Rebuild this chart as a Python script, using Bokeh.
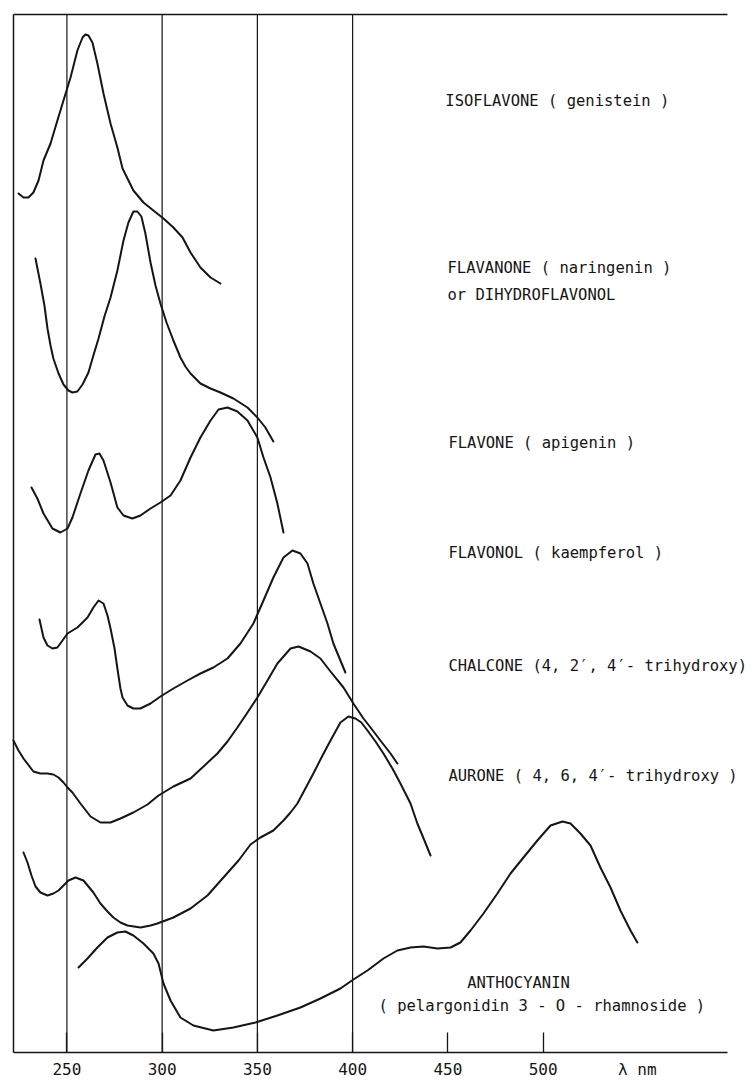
from bokeh.plotting import figure
from bokeh.models import Range1d, FixedTicker, Label, LinearAxis
from bokeh.embed import file_html
from bokeh.resources import INLINE

# ---------------- data (wavelength in nm, relative absorbance, curves offset) ----------------
isoflavone_nm = [224.6, 227.2, 229.8, 232.4, 235.1, 237.7, 241.4, 245.0, 248.2, 251.9, 255.5, 258.2,
                 259.7, 261.3, 263.4, 266.0, 269.2, 272.9, 276.5, 279.2, 281.8, 284.9, 290.2, 295.4,
                 300.7, 305.9, 310.7, 314.9, 320.1, 325.4, 330.6]
isoflavone_abs = [85.9, 85.5, 85.5, 86.0, 87.2, 89.2, 90.9, 93.2, 95.2, 97.5, 100.2, 101.5,
                  101.8, 101.7, 101.0, 98.9, 95.9, 92.9, 90.5, 88.4, 87.4, 86.2, 85.0, 84.2,
                  83.4, 82.5, 81.5, 80.0, 78.5, 77.5, 76.9]

flavanone_nm = [233.5, 236.1, 238.2, 239.8, 241.4, 242.9, 245.6, 248.2, 250.8, 252.9, 255.5, 258.2,
                261.3, 263.9, 266.6, 269.7, 272.9, 276.5, 279.7, 282.3, 284.9, 287.0, 289.1, 291.2,
                293.9, 296.5, 299.1, 302.3, 305.9, 309.6, 312.2, 314.9, 320.1, 325.4, 330.6, 337.4,
                344.8, 350.0, 354.2, 358.4]
flavanone_abs = [79.4, 76.9, 74.7, 72.4, 70.7, 69.4, 67.9, 66.8, 66.2, 66.0, 66.1, 66.8,
                 68.0, 69.7, 71.4, 73.6, 75.5, 78.2, 81.2, 83.0, 84.1, 84.1, 83.6, 81.9,
                 79.0, 76.7, 74.9, 73.0, 71.2, 69.5, 68.6, 67.9, 66.9, 66.4, 66.0, 65.4,
                 64.5, 63.5, 62.5, 61.1]

flavone_nm = [231.4, 234.5, 237.7, 242.4, 246.6, 250.3, 252.9, 257.1, 261.3, 265.0, 267.1, 269.2,
              272.9, 276.5, 279.7, 284.4, 288.6, 293.9, 299.1, 304.4, 309.6, 314.9, 320.1, 325.4,
              329.6, 334.3, 339.5, 344.8, 350.0, 353.2, 356.9, 360.5, 363.7]
flavone_abs = [56.5, 55.4, 53.9, 52.4, 52.0, 52.4, 53.5, 55.9, 58.2, 59.8, 59.9, 59.2,
               57.0, 54.5, 53.7, 53.4, 53.7, 54.4, 55.0, 55.7, 57.2, 59.5, 61.5, 63.2,
               64.3, 64.5, 64.1, 63.2, 61.5, 59.5, 57.5, 54.9, 52.0]

flavonol_nm = [235.6, 237.7, 239.8, 242.4, 245.0, 247.7, 250.3, 252.9, 255.5, 258.2, 260.8, 263.9,
               266.6, 269.2, 271.3, 272.9, 275.0, 276.5, 278.1, 279.2, 281.8, 284.9, 288.6, 293.9,
               299.1, 305.9, 313.3, 320.1, 326.9, 334.3, 341.1, 347.9, 353.2, 358.4, 363.7, 368.4,
               372.6, 376.3, 379.4, 383.1, 386.8, 389.9, 393.6, 396.2]
flavonol_abs = [43.3, 41.5, 40.7, 40.4, 40.5, 41.2, 41.9, 42.2, 42.5, 43.0, 43.5, 44.5,
                45.2, 44.9, 43.7, 42.4, 40.4, 38.4, 36.4, 35.5, 34.7, 34.4, 34.4, 34.9,
                35.6, 36.4, 37.2, 37.9, 38.5, 39.4, 40.9, 42.9, 45.2, 47.5, 49.5, 50.2,
                49.9, 48.9, 46.9, 44.9, 42.9, 40.9, 39.2, 38.0]

chalcone_nm = [221.9, 224.6, 227.2, 232.4, 236.1, 239.8, 242.9, 245.6, 248.2, 250.3, 252.9, 257.1,
               262.4, 267.6, 272.9, 278.1, 284.9, 292.3, 298.1, 305.9, 314.9, 321.7, 329.0, 334.3,
               339.5, 344.8, 350.0, 355.3, 360.5, 367.4, 371.6, 377.9, 383.1, 388.4, 395.2, 400.4,
               405.7, 409.4, 414.6, 419.9, 423.5]
chalcone_abs = [31.2, 30.2, 29.4, 28.1, 27.9, 27.9, 27.8, 27.5, 27.0, 26.5, 26.0, 24.9,
                23.6, 23.0, 23.0, 23.4, 24.0, 24.8, 25.7, 26.6, 27.4, 28.6, 29.9, 31.1,
                32.5, 34.0, 35.5, 37.2, 38.9, 40.4, 40.6, 40.1, 39.4, 38.1, 36.5, 34.9,
                33.4, 32.5, 31.2, 29.9, 28.9]

aurone_nm = [227.2, 229.3, 231.4, 233.5, 236.1, 239.8, 242.9, 245.6, 248.2, 250.8, 254.5, 258.7,
             263.9, 267.6, 271.3, 274.4, 278.1, 281.8, 288.6, 293.9, 297.5, 305.9, 314.9, 323.8,
             331.7, 340.1, 346.4, 351.6, 358.4, 363.7, 367.4, 371.0, 375.2, 379.4, 384.2, 388.4,
             393.6, 397.8, 401.5, 404.6, 407.8, 412.0, 416.2, 420.9, 425.1, 430.4, 434.0, 437.7,
             440.9]
aurone_abs = [20.0, 19.0, 17.7, 16.6, 16.0, 15.7, 15.9, 16.2, 16.7, 17.2, 17.5, 17.2,
              16.0, 14.9, 14.1, 13.5, 13.0, 12.7, 12.5, 12.7, 12.9, 13.5, 14.4, 15.7,
              17.4, 19.2, 20.8, 21.5, 22.2, 23.2, 24.0, 24.9, 26.4, 27.9, 29.7, 31.2,
              33.0, 33.6, 33.4, 33.0, 32.2, 31.1, 29.9, 28.4, 26.9, 24.9, 22.9, 21.2,
              19.7]

anthocyanin_nm = [256.1, 260.8, 266.0, 271.3, 276.5, 280.7, 284.9, 290.2, 295.4, 298.1, 300.7, 304.4,
                  309.6, 316.4, 326.9, 337.4, 349.0, 360.5, 372.6, 383.1, 393.6, 400.4, 407.8, 416.2,
                  423.5, 430.4, 437.2, 444.5, 451.4, 456.6, 461.9, 468.7, 476.0, 482.9, 489.7, 497.0,
                  503.9, 510.2, 514.4, 519.6, 524.9, 530.1, 535.4, 540.6, 545.9, 549.5]
anthocyanin_abs = [8.5, 9.4, 10.5, 11.5, 12.0, 12.1, 11.7, 10.9, 9.9, 8.9, 6.9, 5.2,
                   3.5, 2.7, 2.2, 2.5, 3.0, 3.7, 4.5, 5.4, 6.4, 7.3, 8.2, 9.4,
                   10.2, 10.5, 10.6, 10.4, 10.5, 11.0, 12.2, 13.9, 15.9, 17.9, 19.5, 21.2,
                   22.7, 23.1, 22.9, 21.9, 20.7, 18.5, 16.5, 14.2, 12.2, 11.0]

tick_values = [250, 300, 350, 400, 450, 500]
grid_values = [250, 300, 350, 400]
axis_unit_label = "λ nm"

curve_labels = [
    "ISOFLAVONE ( genistein )",
    "FLAVANONE ( naringenin )",
    "or DIHYDROFLAVONOL",
    "FLAVONE ( apigenin )",
    "FLAVONOL ( kaempferol )",
    "CHALCONE (4, 2′, 4′- trihydroxy)",
    "AURONE ( 4, 6, 4′- trihydroxy )",
    "ANTHOCYANIN",
    "( pelargonidin 3 - O - rhamnoside )",
]

# ---------------- layout / styling ----------------
label_x = [448.7, 449.8, 449.8, 450.3, 450.3, 450.3, 450.3, 487.1, 413.6]
label_y = [95.2, 78.5, 75.8, 61.0, 50.0, 38.7, 27.7, 7.0, 4.7]
label_align = ["left"] * 7 + ["center", "left"]

VIEW_X = (215.13, 611.0)     # whole canvas
VIEW_Y = (-3.0, 105.2)
X0, X_END = 221.95, 596.8    # extent of the drawn frame
Y_BASE, Y_TOP = 0.0, 103.8
INK = "#151515"
FONT = "DejaVu Sans Mono"

p = figure(width=754, height=1082,
           x_range=Range1d(*VIEW_X), y_range=Range1d(*VIEW_Y),
           output_backend="svg", toolbar_location=None, title=None,
           x_axis_location=None, y_axis_location=None, min_border=0)
p.outline_line_color = None
p.background_fill_color = "white"
p.border_fill_color = "white"
p.grid.grid_line_color = None

# bottom wavelength axis
xaxis = LinearAxis(fixed_location=Y_BASE, bounds=(X0, X_END),
                   ticker=FixedTicker(ticks=tick_values))
xaxis.major_tick_in = 20
xaxis.major_tick_out = 0
xaxis.minor_tick_line_color = None
xaxis.axis_line_color = INK
xaxis.axis_line_width = 1.5
xaxis.major_tick_line_color = INK
xaxis.major_tick_line_width = 1.3
xaxis.major_label_text_font = FONT
xaxis.major_label_text_font_size = "16px"
xaxis.major_label_text_color = INK
xaxis.major_label_standoff = 10
p.add_layout(xaxis, "below")

# top and left frame lines
top_line = LinearAxis(fixed_location=Y_TOP, bounds=(X0, X_END))
left_line = LinearAxis(fixed_location=X0, bounds=(Y_BASE, Y_TOP))
for a in (top_line, left_line):
    a.axis_line_color = INK
    a.axis_line_width = 1.5
    a.major_tick_line_color = None
    a.minor_tick_line_color = None
    a.major_label_text_color = None
    a.major_label_text_font_size = "0px"
p.add_layout(top_line, "above")
p.add_layout(left_line, "left")

# vertical reference lines at 250, 300, 350, 400 nm
p.segment(x0=grid_values, y0=[Y_BASE] * len(grid_values),
          x1=grid_values, y1=[Y_TOP] * len(grid_values),
          line_color=INK, line_width=1.2)

series = [
    (isoflavone_nm, isoflavone_abs),
    (flavanone_nm, flavanone_abs),
    (flavone_nm, flavone_abs),
    (flavonol_nm, flavonol_abs),
    (chalcone_nm, chalcone_abs),
    (aurone_nm, aurone_abs),
    (anthocyanin_nm, anthocyanin_abs),
]
for xs, ys in series:
    p.line(xs, ys, line_color=INK, line_width=2, line_join="round", line_cap="round")

for txt, lx, ly, al in zip(curve_labels, label_x, label_y, label_align):
    p.add_layout(Label(x=lx, y=ly, text=txt, text_font=FONT, text_font_size="15.5px",
                       text_color=INK, text_align=al, text_baseline="middle"))

p.add_layout(Label(x=549.5, y=-1.7, text=axis_unit_label, text_font=FONT, text_font_size="16px",
                   text_color=INK, text_align="center", text_baseline="middle"))

open("out.html", "w").write(file_html(p, INLINE))
